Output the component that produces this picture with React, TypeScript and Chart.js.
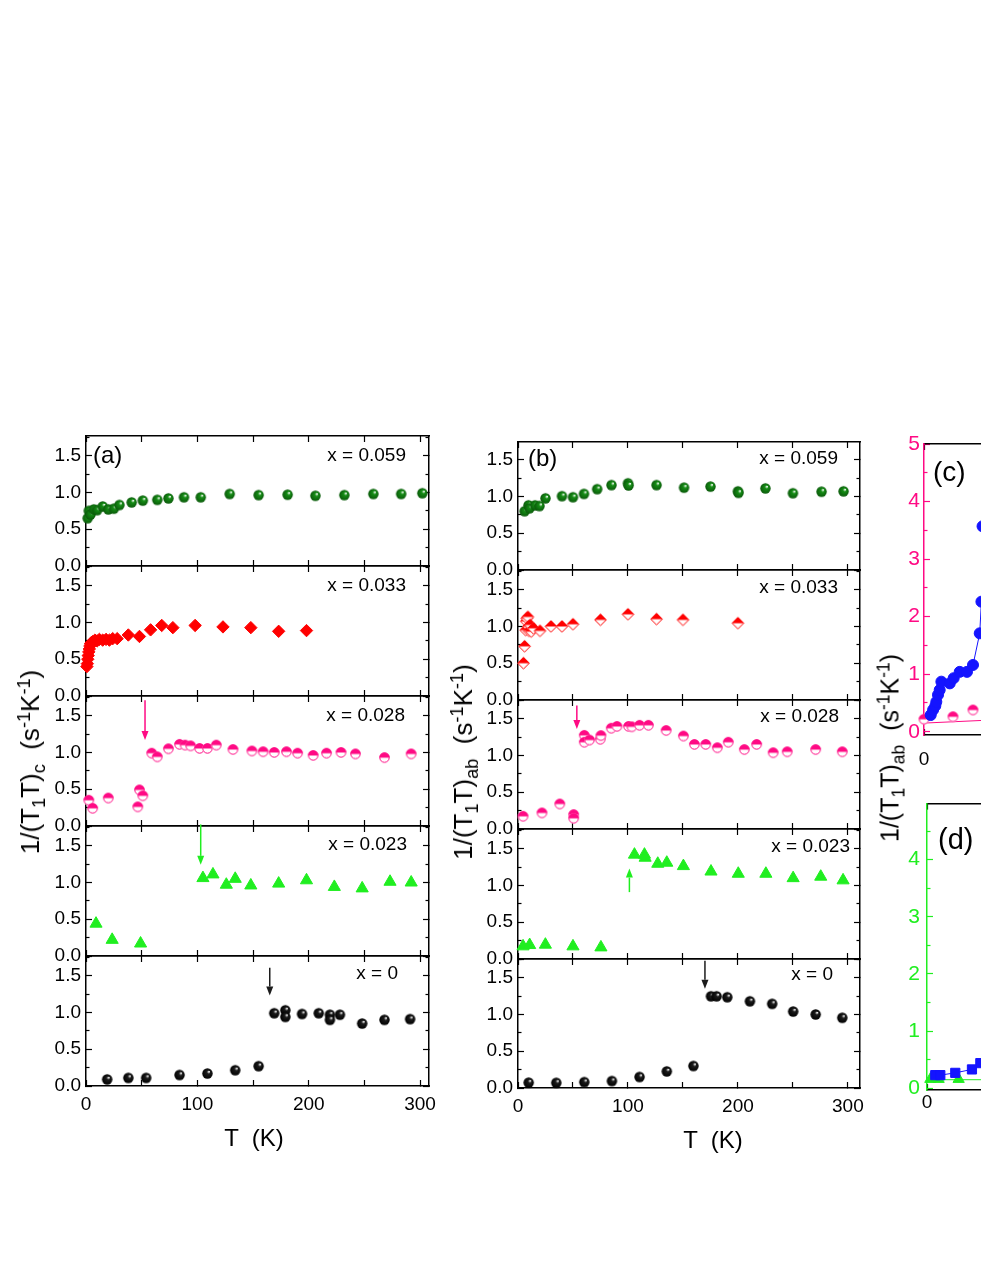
import { useEffect, useRef } from 'react';
import { Chart, registerables } from 'chart.js';

Chart.register(...registerables);

const FONT = '"Liberation Sans", Arial, Helvetica, sans-serif';

const GREEN_DARK = '#168e16';
const GREEN_EDGE = '#0a5a0a';
const RED = '#ff0000';
const PINK = '#ff0a84';
const LIME = '#20ee20';
const BLACK = '#1c1c1c';
const BLACK_EDGE = '#000000';
const BLUE = '#1414ff';

// ---------------- Panel (a): 1/(T1T)c ----------------
const a059T = [1.5, 2.5, 4, 7, 10, 15, 20, 25, 30, 41, 51, 64, 74, 88, 103, 129, 155, 181, 206, 232, 258, 283, 302];
const a059V = [0.65, 0.75, 0.70, 0.77, 0.76, 0.81, 0.77, 0.78, 0.83, 0.865, 0.89, 0.90, 0.92, 0.935, 0.935, 0.98, 0.965, 0.97, 0.955, 0.965, 0.98, 0.98, 0.99];

const a033T = [0.8, 1.2, 1.6, 2, 2.5, 3, 3.5, 4, 5, 6, 8, 10, 12, 15, 18, 21, 24, 28, 38, 48, 58, 68, 78, 98, 123, 148, 173, 198];
const a033V = [0.40, 0.44, 0.50, 0.55, 0.60, 0.64, 0.68, 0.71, 0.73, 0.74, 0.76, 0.75, 0.77, 0.76, 0.77, 0.76, 0.78, 0.78, 0.83, 0.81, 0.90, 0.96, 0.93, 0.96, 0.94, 0.93, 0.88, 0.89];

const a028T = [2.5, 6, 20, 46.5, 48, 51, 59, 64, 74, 84, 89, 94, 102, 109, 117, 132, 149, 159, 169, 180, 190, 204, 216, 229, 242, 268, 292];
const a028V = [0.35, 0.24, 0.38, 0.26, 0.49, 0.41, 0.99, 0.94, 1.05, 1.11, 1.10, 1.09, 1.055, 1.055, 1.10, 1.04, 1.02, 1.01, 1.00, 1.01, 0.99, 0.96, 0.99, 1.00, 0.98, 0.93, 0.98];

const a023T = [9, 23.5, 49, 105, 114, 126, 134, 148, 173, 198, 223, 248, 273, 292];
const a023V = [0.44, 0.22, 0.17, 1.06, 1.11, 0.97, 1.05, 0.96, 0.985, 1.03, 0.94, 0.92, 1.01, 1.0];

const a000T = [19, 38, 54, 84, 109, 134, 155, 169, 179, 179, 194, 209, 219, 219, 228, 248, 268, 291];
const a000V = [0.09, 0.11, 0.11, 0.15, 0.17, 0.215, 0.27, 0.99, 1.03, 0.94, 0.98, 0.99, 0.97, 0.90, 0.97, 0.85, 0.90, 0.91];

// ---------------- Panel (b): 1/(T1T)ab ----------------
const b059T = [6, 9.5, 10.5, 15.5, 19.5, 25, 40, 50, 60, 72, 85, 100, 100.5, 126, 151, 175, 200, 200.5, 225, 250, 276, 296];
const b059V = [0.80, 0.88, 0.84, 0.88, 0.87, 0.975, 1.005, 0.99, 1.035, 1.10, 1.155, 1.18, 1.15, 1.155, 1.12, 1.135, 1.07, 1.05, 1.11, 1.045, 1.065, 1.07];

const b033T = [5, 6, 7, 7.5, 8, 9, 9.5, 10, 11, 12, 14, 20, 30, 40, 50, 75, 100, 126, 150, 200];
const b033V = [0.50, 0.73, 0.95, 1.07, 1.11, 1.13, 1.0, 0.94, 1.02, 0.93, 0.975, 0.94, 1.0, 1.0, 1.03, 1.09, 1.165, 1.10, 1.09, 1.045];

const b028T = [4.6, 21.8, 38, 50.6, 50.6, 60.3, 60.3, 65, 74.8, 75.4, 84.8, 90, 100.5, 103.5, 110.5, 118.6, 134.7, 150.4, 160.4, 170.7, 181.3, 191.2, 205.8, 217, 232, 244.8, 270.7, 294.9];
const b028V = [0.172, 0.218, 0.34, 0.195, 0.145, 1.273, 1.18, 1.21, 1.22, 1.27, 1.37, 1.395, 1.395, 1.39, 1.41, 1.41, 1.34, 1.264, 1.15, 1.15, 1.105, 1.18, 1.08, 1.15, 1.037, 1.05, 1.08, 1.05];

const b023T = [4.6, 10.6, 24.9, 50, 75.4, 105.9, 115, 115.6, 127.1, 135.3, 150.4, 175.5, 200.3, 225.4, 250.2, 275.3, 295.6];
const b023V = [0.172, 0.19, 0.195, 0.172, 0.158, 1.42, 1.42, 1.378, 1.296, 1.31, 1.264, 1.19, 1.16, 1.16, 1.10, 1.12, 1.07];

const b000T = [9.7, 34.8, 60.3, 85.4, 110.5, 135.3, 159.5, 175.5, 180.6, 190.3, 210.9, 231.1, 250.2, 270.7, 294.9];
const b000V = [0.073, 0.07, 0.08, 0.095, 0.15, 0.226, 0.30, 1.248, 1.248, 1.235, 1.18, 1.145, 1.04, 1.0, 0.955];

// ---------------- Panel (c) ----------------
const cBlueT = [4.8, 6.5, 8.1, 8.8, 10, 11.2, 12.4, 18.4, 21.2, 25.5, 30.7, 35, 39.8, 41, 41.8];
const cBlueV = [0.29, 0.38, 0.45, 0.52, 0.64, 0.725, 0.87, 0.84, 0.93, 1.04, 1.04, 1.16, 1.71, 2.26, 3.57];
const cPinkT = [0, 20.7, 35];
const cPinkV = [0.216, 0.26, 0.377];
const cPinkLineT = [0, 45];
const cPinkLineV = [0.15, 0.2];

// ---------------- Panel (d) ----------------
const dBlueT = [5.9, 9.5, 20.2, 32.1, 38.1];
const dBlueV = [0.23, 0.23, 0.27, 0.33, 0.44];
const dGreenT = [2.4, 8.3, 22.6];
const dGreenV = [0.16, 0.16, 0.16];
const dGreenLineT = [0, 60];
const dGreenLineV = [0.15, 0.15];

// ---------------- ticks ----------------
const xMajorAB = [0, 100, 200, 300];
const xMinorAB = [50, 150, 250];
const yMajorAB = [0, 0.5, 1.0, 1.5];
const yMinorAB = [0.25, 0.75, 1.25, 1.75];
const xMajorCD = [0, 100, 200];
const xMinorCD = [50, 150, 250];
const yMajorC = [0, 1, 2, 3, 4, 5];
const yMinorC = [0.5, 1.5, 2.5, 3.5, 4.5];
const yMajorD = [0, 1, 2, 3, 4];
const yMinorD = [0.5, 1.5, 2.5, 3.5, 4.5];

// ---------------- types ----------------
type Kind = 'sphere' | 'rectRot' | 'halfCircle' | 'halfDiamond' | 'triangle' | 'circle' | 'rect' | 'none';
interface Series { xs: number[]; ys: number[]; kind: Kind; color: string; r: number; edge?: string; line?: boolean }
interface Arrow { x: number; from: number; to: number; color: string }
interface Txt { text: string; side: 'left' | 'right'; dx: number; dy: number; size: number; color: string }
interface Axis { min: number; max: number; major: number[]; minor: number[]; majorLen: number; minorLen: number; labels: boolean; font: number; pad: number; decimals: number; color: string; labelColor: string }
interface Plot { left: number; top: number; width: number; height: number; bottom: number; x: Axis; y: Axis; series: Series[]; arrows: Arrow[]; texts: Txt[] }

const ser = (xs: number[], ys: number[], kind: Kind, color: string, r: number, edge?: string, line?: boolean): Series => ({ xs, ys, kind, color, r, edge, line });

const arrA028: Arrow = { x: 53, from: 1.71, to: 1.17, color: PINK };
const arrA023: Arrow = { x: 103, from: 1.79, to: 1.24, color: LIME };
const arrA000: Arrow = { x: 165, from: 1.61, to: 1.23, color: BLACK };
const arrB028: Arrow = { x: 53.5, from: 1.68, to: 1.36, color: PINK };
const arrB023: Arrow = { x: 101.3, from: 0.91, to: 1.23, color: LIME };
const arrB000: Arrow = { x: 170, from: 1.73, to: 1.35, color: BLACK };

function abPlot(left: number, width: number, top: number, height: number, xMax: number, showX: boolean,
  label: string, ldx: number, ldy: number, tag: string | null, tdx: number, tdy: number,
  series: Series[], arrows: Arrow[]): Plot {
  const texts: Txt[] = [{ text: label, side: 'right', dx: ldx, dy: ldy, size: 19, color: '#000' }];
  if (tag) texts.push({ text: tag, side: 'left', dx: tdx, dy: tdy, size: 24, color: '#000' });
  return {
    left, top, width, height, bottom: showX ? 45 : 25,
    x: { min: 0, max: xMax, major: xMajorAB, minor: xMinorAB, majorLen: 6, minorLen: 6, labels: showX, font: 19, pad: 13, decimals: 0, color: '#000', labelColor: '#000' },
    y: { min: 0, max: height / 73.5, major: yMajorAB, minor: yMinorAB, majorLen: 6, minorLen: 3.5, labels: true, font: 19, pad: 11, decimals: 1, color: '#000', labelColor: '#000' },
    series, arrows, texts,
  };
}

const A_LEFT = 86, A_W = 343, A_H = 130, A_XMAX = 308;
const B_LEFT = 518, B_W = 342, B_XMAX = 311;

const R_SPH = 5.2, R_HALF = 5.2, R_DIA = 6.2, R_TRI = 7;

const PLOTS: Plot[] = [
  abPlot(A_LEFT, A_W, 436, A_H, A_XMAX, false, 'x = 0.059', -23, 20, '(a)', 7, 20.5, [ser(a059T, a059V, 'sphere', GREEN_DARK, R_SPH, GREEN_EDGE)], []),
  abPlot(A_LEFT, A_W, 566, A_H, A_XMAX, false, 'x = 0.033', -23, 19.5, null, 0, 0, [ser(a033T, a033V, 'rectRot', RED, R_DIA)], []),
  abPlot(A_LEFT, A_W, 696, A_H, A_XMAX, false, 'x = 0.028', -24, 20, null, 0, 0, [ser(a028T, a028V, 'halfCircle', PINK, R_HALF)], [arrA028]),
  abPlot(A_LEFT, A_W, 826, A_H, A_XMAX, false, 'x = 0.023', -22, 18.5, null, 0, 0, [ser(a023T, a023V, 'triangle', LIME, R_TRI)], [arrA023]),
  abPlot(A_LEFT, A_W, 956, A_H, A_XMAX, true, 'x = 0', -31, 18, null, 0, 0, [ser(a000T, a000V, 'sphere', BLACK, R_SPH, BLACK_EDGE)], [arrA000]),

  abPlot(B_LEFT, B_W, 442, 128, B_XMAX, false, 'x = 0.059', -22, 17, '(b)', 10, 17.5, [ser(b059T, b059V, 'sphere', GREEN_DARK, R_SPH, GREEN_EDGE)], []),
  abPlot(B_LEFT, B_W, 570, 130, B_XMAX, false, 'x = 0.033', -22, 18, null, 0, 0, [ser(b033T, b033V, 'halfDiamond', RED, R_DIA)], []),
  abPlot(B_LEFT, B_W, 700, 129, B_XMAX, false, 'x = 0.028', -21, 17, null, 0, 0, [ser(b028T, b028V, 'halfCircle', PINK, R_HALF)], [arrB028]),
  abPlot(B_LEFT, B_W, 829, 130, B_XMAX, false, 'x = 0.023', -10, 18, null, 0, 0, [ser(b023T, b023V, 'triangle', LIME, R_TRI)], [arrB023]),
  abPlot(B_LEFT, B_W, 959, 129, B_XMAX, true, 'x = 0', -27, 16, null, 0, 0, [ser(b000T, b000V, 'sphere', BLACK, R_SPH, BLACK_EDGE)], [arrB000]),

  {
    left: 924, top: 444, width: 350, height: 291, bottom: 45,
    x: { min: 0, max: 250, major: xMajorCD, minor: xMinorCD, majorLen: 6, minorLen: 3.5, labels: true, font: 19, pad: 19, decimals: 0, color: '#000', labelColor: '#000' },
    y: { min: -0.057, max: 5.0, major: yMajorC, minor: yMinorC, majorLen: 6, minorLen: 3.5, labels: true, font: 21, pad: 10, decimals: 0, color: PINK, labelColor: PINK },
    series: [
      ser(cBlueT, cBlueV, 'circle', BLUE, 5.5, undefined, true),
      ser(cPinkT, cPinkV, 'halfCircle', PINK, 5.2),
      ser(cPinkLineT, cPinkLineV, 'none', PINK, 0, undefined, true),
    ],
    arrows: [],
    texts: [{ text: '(c)', side: 'left', dx: 9, dy: 29, size: 28, color: '#000' }],
  },
  {
    left: 927, top: 803, width: 350, height: 287, bottom: 45,
    x: { min: 0, max: 250, major: xMajorCD, minor: xMinorCD, majorLen: 6, minorLen: 3.5, labels: true, font: 19, pad: 7, decimals: 0, color: '#000', labelColor: '#000' },
    y: { min: -0.03, max: 4.98, major: yMajorD, minor: yMinorD, majorLen: 6, minorLen: 3.5, labels: true, font: 21, pad: 13, decimals: 0, color: LIME, labelColor: LIME },
    series: [
      ser(dBlueT, dBlueV, 'rect', BLUE, 6.5, undefined, true),
      ser(dGreenT, dGreenV, 'triangle', LIME, 6.5),
      ser(dGreenLineT, dGreenLineV, 'none', LIME, 0, undefined, true),
    ],
    arrows: [],
    texts: [{ text: '(d)', side: 'left', dx: 11, dy: 37, size: 29, color: '#000' }],
  },
];

const M_L = 75, M_T = 25, M_R = 40;

function makeMarker(kind: Kind, color: string, r: number, edge?: string): any {
  if (kind === 'rectRot' || kind === 'triangle' || kind === 'circle' || kind === 'rect') return kind;
  if (kind === 'none') return 'circle';
  const s = Math.ceil(2 * r + 4);
  const c = document.createElement('canvas');
  c.width = s; c.height = s;
  const g = c.getContext('2d')!;
  const cx = s / 2, cy = s / 2;
  if (kind === 'sphere') {
    const grad = g.createRadialGradient(cx + 0.32 * r, cy - 0.38 * r, 0.05 * r, cx, cy, r);
    grad.addColorStop(0, '#ffffff');
    grad.addColorStop(0.3, color);
    grad.addColorStop(1, edge || color);
    g.fillStyle = grad;
    g.beginPath(); g.arc(cx, cy, r, 0, Math.PI * 2); g.fill();
  } else if (kind === 'halfCircle') {
    g.fillStyle = '#ffffff';
    g.beginPath(); g.arc(cx, cy, r, 0, Math.PI * 2); g.fill();
    g.fillStyle = color;
    g.beginPath(); g.arc(cx, cy, r, Math.PI, Math.PI * 2); g.closePath(); g.fill();
    g.strokeStyle = color; g.lineWidth = 1;
    g.beginPath(); g.arc(cx, cy, r - 0.5, 0, Math.PI * 2); g.stroke();
  } else if (kind === 'halfDiamond') {
    g.fillStyle = '#ffffff';
    g.beginPath(); g.moveTo(cx, cy - r); g.lineTo(cx + r, cy); g.lineTo(cx, cy + r); g.lineTo(cx - r, cy); g.closePath(); g.fill();
    g.fillStyle = color;
    g.beginPath(); g.moveTo(cx, cy - r); g.lineTo(cx + r, cy); g.lineTo(cx - r, cy); g.closePath(); g.fill();
    g.strokeStyle = color; g.lineWidth = 1;
    g.beginPath(); g.moveTo(cx, cy - r + 0.5); g.lineTo(cx + r - 0.5, cy); g.lineTo(cx, cy + r - 0.5); g.lineTo(cx - r + 0.5, cy); g.closePath(); g.stroke();
  }
  return c;
}

function scaleCfg(position: string, ax: Axis, values: number[], len: number, labels: boolean, weight: number, size: number, border: boolean, color: string, labelColor: string) {
  const horizontal = position === 'top' || position === 'bottom';
  return {
    type: 'linear',
    position,
    min: ax.min,
    max: ax.max,
    weight,
    afterBuildTicks: (sc: any) => {
      sc.ticks = values.filter((v) => v >= ax.min - 1e-9 && v <= ax.max + 1e-9).map((v) => ({ value: v }));
    },
    afterFit: (sc: any) => {
      if (horizontal) sc.height = size; else sc.width = size;
    },
    grid: { display: true, drawOnChartArea: false, drawTicks: true, tickLength: -len, tickColor: color, tickWidth: 1.2, color: 'rgba(0,0,0,0)' },
    border: { display: border, color, width: 1.5 },
    ticks: labels
      ? {
          display: true, autoSkip: false, maxRotation: 0, minRotation: 0, padding: ax.pad, color: labelColor,
          font: { family: FONT, size: ax.font },
          callback: (v: any) => Number(v).toFixed(ax.decimals),
        }
      : { display: false },
  };
}

function buildChart(canvas: HTMLCanvasElement, p: Plot): Chart {
  const datasets = p.series.map((s) => ({
    data: s.xs.map((x, i) => ({ x, y: s.ys[i] })),
    showLine: !!s.line,
    borderColor: s.color,
    borderWidth: 1,
    backgroundColor: s.color,
    pointStyle: makeMarker(s.kind, s.color, s.r, s.edge),
    pointRadius: s.kind === 'none' ? 0 : s.r,
    pointBackgroundColor: s.color,
    pointBorderColor: s.color,
    pointBorderWidth: 1,
    clip: false as any,
  }));

  const annot = {
    id: 'annot',
    afterDatasetsDraw(chart: any) {
      const { ctx, chartArea: a } = chart;
      const xs = chart.scales.x, ys = chart.scales.y;
      ctx.save();
      for (const ar of p.arrows) {
        const px = xs.getPixelForValue(ar.x);
        const y1 = ys.getPixelForValue(ar.from);
        const y2 = ys.getPixelForValue(ar.to);
        const dir = Math.sign(y2 - y1);
        const head = 9, hw = 3.5;
        ctx.strokeStyle = ar.color; ctx.lineWidth = 1.5;
        ctx.beginPath(); ctx.moveTo(px, y1); ctx.lineTo(px, y2 - dir * head); ctx.stroke();
        ctx.fillStyle = ar.color;
        ctx.beginPath(); ctx.moveTo(px, y2); ctx.lineTo(px - hw, y2 - dir * head); ctx.lineTo(px + hw, y2 - dir * head); ctx.closePath(); ctx.fill();
      }
      for (const t of p.texts) {
        ctx.font = `${t.size}px ${FONT}`;
        ctx.fillStyle = t.color;
        ctx.textBaseline = 'middle';
        ctx.textAlign = t.side;
        const x = t.side === 'left' ? a.left + t.dx : a.right + t.dx;
        ctx.fillText(t.text, x, a.top + t.dy);
      }
      ctx.restore();
    },
  };

  const scales: any = {
    x: scaleCfg('bottom', p.x, p.x.major, p.x.majorLen, p.x.labels, 1, p.bottom, true, '#000', p.x.labelColor),
    xm: scaleCfg('bottom', p.x, p.x.minor, p.x.minorLen, false, 0, 0, false, '#000', '#000'),
    x2: scaleCfg('top', p.x, p.x.major, p.x.majorLen, false, 1, M_T, true, '#000', '#000'),
    x2m: scaleCfg('top', p.x, p.x.minor, p.x.minorLen, false, 0, 0, false, '#000', '#000'),
    y: scaleCfg('left', p.y, p.y.major, p.y.majorLen, p.y.labels, 1, M_L, true, p.y.color, p.y.labelColor),
    ym: scaleCfg('left', p.y, p.y.minor, p.y.minorLen, false, 0, 0, false, p.y.color, p.y.labelColor),
    y2: scaleCfg('right', p.y, p.y.major, p.y.majorLen, false, 1, M_R, true, '#000', '#000'),
    y2m: scaleCfg('right', p.y, p.y.minor, p.y.minorLen, false, 0, 0, false, '#000', '#000'),
  };

  return new Chart(canvas, {
    type: 'scatter',
    data: { datasets } as any,
    options: {
      responsive: false,
      animation: false,
      events: [],
      layout: { padding: 0, autoPadding: false },
      plugins: { legend: { display: false }, tooltip: { enabled: false } },
      scales,
    } as any,
    plugins: [annot as any],
  });
}

const Sub = ({ children }: { children: any }) => (
  <span style={{ fontSize: '0.7em', position: 'relative', top: '0.32em' }}>{children}</span>
);
const Sup = ({ children }: { children: any }) => (
  <span style={{ fontSize: '0.7em', position: 'relative', top: '-0.5em' }}>{children}</span>
);

function YTitle({ cx, cy, sub, size }: { cx: number; cy: number; sub: string; size: number }) {
  return (
    <div
      style={{
        position: 'absolute', left: cx, top: cy, transform: 'translate(-50%, -50%) rotate(-90deg)',
        whiteSpace: 'pre', fontSize: size, lineHeight: 1, fontFamily: FONT, color: '#000',
      }}
    >
      1/(T<Sub>1</Sub>T)<Sub>{sub}</Sub>{'  '}(s<Sup>-1</Sup>K<Sup>-1</Sup>)
    </div>
  );
}

function XTitle({ cx, cy }: { cx: number; cy: number }) {
  return (
    <div
      style={{
        position: 'absolute', left: cx, top: cy, transform: 'translate(-50%, -50%)',
        whiteSpace: 'pre', fontSize: 24, lineHeight: 1, fontFamily: FONT, color: '#000',
      }}
    >
      {'T  (K)'}
    </div>
  );
}

export default function App() {
  const refs = useRef<(HTMLCanvasElement | null)[]>([]);

  useEffect(() => {
    const charts = PLOTS.map((p, i) => buildChart(refs.current[i] as HTMLCanvasElement, p));
    return () => {
      charts.forEach((c) => c.destroy());
    };
  }, []);

  return (
    <div style={{ position: 'absolute', left: 0, top: 0, width: 981, height: 1269, overflow: 'hidden', background: '#ffffff' }}>
      {PLOTS.map((p, i) => {
        const w = p.width + M_L + M_R;
        const h = p.height + M_T + p.bottom;
        return (
          <canvas
            key={i}
            ref={(el) => { refs.current[i] = el; }}
            width={w}
            height={h}
            style={{ position: 'absolute', left: p.left - M_L, top: p.top - M_T, width: w, height: h }}
          />
        );
      })}
      <YTitle cx={30} cy={762} sub="c" size={26} />
      <YTitle cx={463} cy={762} sub="ab" size={26} />
      <YTitle cx={890} cy={748} sub="ab" size={25} />
      <XTitle cx={254} cy={1138} />
      <XTitle cx={713} cy={1140} />
    </div>
  );
}
